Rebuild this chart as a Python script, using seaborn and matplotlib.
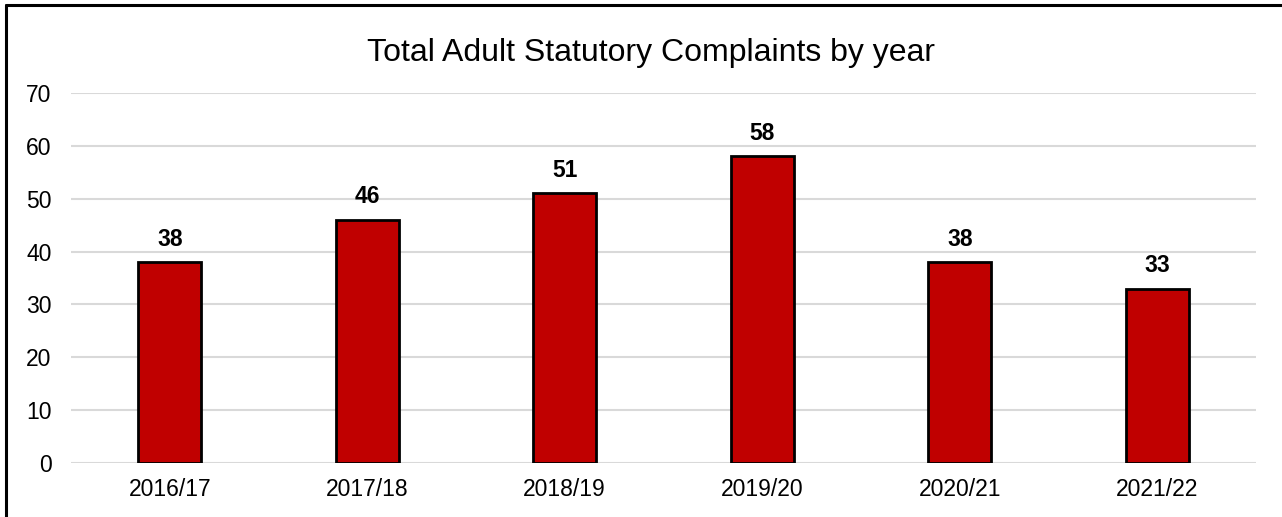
import numpy as np
import pandas as pd
import matplotlib
matplotlib.use("Agg")
import matplotlib.pyplot as plt
import seaborn as sns

# Chart data
years = ["2016/17", "2017/18", "2018/19", "2019/20", "2020/21", "2021/22"]
complaints = [38, 46, 51, 58, 38, 33]
y_ticks = [0, 10, 20, 30, 40, 50, 60, 70]

df = pd.DataFrame({"Year": years, "Complaints": complaints})

sns.set_style("white")
plt.rcParams['font.family'] = ['Liberation Sans', 'DejaVu Sans']
plt.rcParams['text.color'] = 'black'
plt.rcParams['xtick.color'] = 'black'
plt.rcParams['ytick.color'] = 'black'

fig = plt.figure(figsize=(12.82, 5.17), dpi=100)
ax = fig.add_axes([71 / 1282, 54 / 517, (1256 - 71) / 1282, 370 / 517])

sns.barplot(x="Year", y="Complaints", data=df, color="#C00000", saturation=1,
            edgecolor="black", linewidth=2, width=0.32, ax=ax, zorder=3)

# Data labels
for i, v in enumerate(complaints):
    ax.annotate(str(v), (i, v), xytext=(0, 16.5), textcoords="offset points",
                ha="center", va="center", fontsize=16.5, fontweight="bold",
                color="black")

ax.set_ylim(0, 70)
ax.set_xlim(-0.5, len(years) - 0.5)
ax.set_yticks(y_ticks)
ax.yaxis.grid(True, color="#d9d9d9", linewidth=1.5, zorder=0)
ax.set_axisbelow(True)
ax.tick_params(axis="both", length=0, labelsize=16.5, labelcolor="black")
ax.tick_params(axis="y", pad=14)
ax.tick_params(axis="x", pad=11)
ax.set_xlabel("")
ax.set_ylabel("")
for s in ax.spines.values():
    s.set_visible(False)

# Title
fig.text(651 / 1282, 456 / 517, "Total Adult Statutory Complaints by year",
         ha="center", va="baseline", fontsize=23, color="black")

# Border of the (cropped) chart box
fig.add_artist(plt.Line2D([6 / 1282, 6 / 1282], [0, 512 / 517], color="black",
                          linewidth=2.2, transform=fig.transFigure))
fig.add_artist(plt.Line2D([6 / 1282, 1], [512 / 517, 512 / 517], color="black",
                          linewidth=2.2, transform=fig.transFigure))

fig.savefig("out.png", dpi=100)
